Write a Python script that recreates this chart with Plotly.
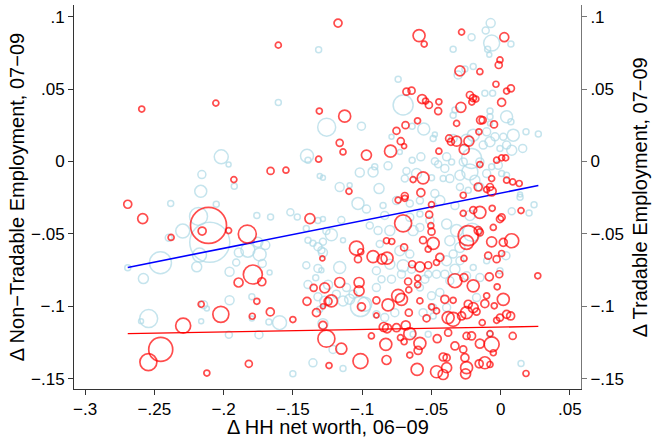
import plotly.graph_objects as go

# ---------------- data ----------------
# Non-tradable employment change (left axis, light blue circles)
nt_x = [
    -.1314, -.1605, -.1256, -.2017, -.1964, -.1398, -.1391, -.2157, -.2165, -.1923,
    -.2382, -.1306, -.1283, -.176, -.1661, -.1518, -.1468, -.2053, -.2181, -.2295,
    -.2396, -.21, -.2174, -.2194, -.2456, -.2692, -.2579, -.2541, -.2596, -.2145,
    -.2121, -.2162, -.1957, -.1962, -.189, -.1957, -.1909, -.1825, -.1753, -.1699,
    -.174, -.1721, -.1668, -.1796, -.1596, -.1673, -.1745, -.1796, -.1355, -.15,
    -.1391, -.1403, -.1355, -.1319, -.1294, -.1283, -.1319, -.1294, -.1335, -.1319,
    -.127, -.1306, -.1403, -.1258, -.1005, -.1017, -.1162, -.109, -.074, -.0704,
    -.0639, -.0555, -.0788, -.0728, -.0487, -.0475, -.0576, -.0639, -.0813, -.0921,
    -.0909, -.068, -.0692, -.0607, -.0499, -.0475, -.0451, -.0878, -.0475, -.0072,
    -.0108, -.021, -.0065, -.0343, -.0082, -.0094, -.0307, -.0258, -.0198, -.0058,
    -.0114, -.033, -.0343, -.0077, -.0077, -.0077, .0043, -.0101, -.0041, -.0077,
    .0019, .0043, -.0005, -.0126, -.0198, -.0246, -.0343, -.021, -.0222, -.027,
    -.015, -.039, -.0403, -.0354, -.0294, -.0186, -.0101, -.0065, -.0017, .0007,
    .0043, -.0367, -.0415, -.015, -.0294, -.0234, .0074, .0074, .0183, .0272,
    .0091, .0159, .008, .014, -.1319, -.1283, -.115, -.103, -.0969, -.1391,
    -.1222, -.1138, -.1283, -.1162, -.1246, -.1113, -.1066, -.109, -.1138, -.1186,
    -.1012, -.0981, -.1283, -.1138, -.121, -.0752, -.0656, -.0583, -.0849, -.0885,
    -.08, -.0632, -.0583, -.0656, -.0583, -.0873, -.0728, -.0656, -.08, -.0704,
    -.0643, -.0523, -.0463, -.0716, -.0897, -.086, -.0788, -.0547, -.0897, -.0583,
    -.0499, -.0487, -.056, -.0764, -.0897, -.0487, -.0837, -.0523, -.0632, -.039,
    -.0318, -.0367, -.0294, -.0343, -.039, -.0294, -.033, -.0403, -.0246, -.0367,
    -.0198, -.0101, -.015, -.0174, -.0439, -.039, -.0077, .014, .0241, .0205,
    .008, .0147, -.0439, -.033, -.0222, -.0511, -.0207, .0038, -.0005, -.0837, -.0945,
]
nt_y = [
    .0772, .0408, .0237, .0032, -.0021, .0039, .0009, -.009, -.0206, -.0171,
    -.0289, -.01, -.0113, -.0372, -.0383, -.0351, -.0383, -.0295, -.0379, -.048,
    -.0526, -.0558, -.0646, -.0727, -.0699, -.0734, -.0808, -.1084, -.1103, -.0988,
    -.1015, -.1103, -.0958, -.1195, -.0628, -.0761, -.0697, -.0612, -.0558, -.0577,
    -.0641, -.0704, -.0766, -.0934, -.1112, -.1107, -.1195, -.1084, -.1389, -.1465,
    -.0849, -.0716, -.0565, -.0588, -.0612, -.0554, -.0738, -.075, -.0803, -.0934,
    -.0965, -.102, -.0462, -.048, .0244, -.0076, -.0176, -.0164, .0567, .039,
    .0244, .0224, .017, .0066, .0159, .0187, .0032, .0009, -.003, -.0072,
    -.0037, -.0065, -.0118, -.0083, -.0113, .0002, -.0019, -.0187, -.0221, .0955,
    .0904, .0858, .0817, .0775, .0736, .0775, .0597, .0639, .0655, .0471,
    .0471, .0355, .032, .0348, .0309, .0263, .0309, .0205, .017, .0136,
    .017, .0113, .009, .0113, .0182, .0147, .0159, .0021, -.0072, -.0003,
    -.0003, .0032, -.0048, -.0003, -.0095, -.0129, -.0083, -.0037, -.0026, -.0083,
    -.0095, -.0118, -.0118, -.0176, -.0176, -.0199, .081, .0274, .0205, .0189,
    .0182, .009, .0078, -.0228, -.0408, -.0397, -.0404, -.0289, -.0328, -.0543,
    -.0505, -.0543, -.0628, -.0731, -.0851, -.087, -.0916, -.0951, -.0962, -.0916,
    -.1001, -.0985, -.1119, -.1428, -.1297, -.027, -.0289, -.027, -.0304, -.0477,
    -.0477, -.0477, -.0455, -.0385, -.0363, -.057, -.0616, -.0639, -.0709, -.072,
    -.0743, -.0778, -.0778, -.0778, -.0754, -.0812, -.0812, -.0812, -.087, -.087,
    -.0927, -.1008, -.1043, -.1043, -.1055, -.1066, -.1077, -.1193, -.1193, -.0432,
    -.0477, -.0547, -.0593, -.0639, -.0685, -.0685, -.0743, -.0778, -.0789, -.0823,
    -.0731, -.0685, -.0801, -.0939, -.0904, -.1008, -.1193, -.0247, -.0298, -.0356,
    -.0344, -.1394, -.0269, -.0304, -.0372, -.0407, -.0489, -.065, -.0754, -.0372, -.0441,
]
nt_size = [
    6, 6, 18, 14, 5, 13, 6, 8, 12, 6,
    6, 5, 5, 6, 6, 7, 6, 6, 18, 14,
    7, 40, 14, 10, 22, 6, 10, 18, 5, 8,
    5, 5, 9, 7, 9, 9, 7, 14, 10, 9,
    13, 8, 5, 6, 14, 6, 8, 5, 8, 6,
    8, 7, 6, 8, 7, 7, 8, 5, 6, 8,
    10, 6, 6, 7, 8, 9, 9, 5, 6, 20,
    6, 12, 5, 5, 6, 5, 8, 6, 8, 10,
    6, 7, 7, 10, 6, 7, 7, 10, 8, 9,
    7, 7, 16, 6, 5, 6, 8, 6, 6, 6,
    6, 6, 6, 6, 6, 5, 12, 8, 8, 10,
    7, 8, 6, 8, 12, 12, 8, 20, 16, 8,
    8, 8, 8, 6, 10, 10, 8, 6, 8, 6,
    6, 8, 6, 8, 7, 6, 6, 6, 6, 6,
    12, 8, 10, 5, 6, 5, 7, 12, 8, 6,
    12, 5, 9, 12, 9, 8, 8, 10, 10, 8,
    20, 14, 10, 6, 8, 8, 7, 7, 6, 8,
    10, 10, 8, 8, 6, 7, 10, 8, 10, 12,
    8, 7, 8, 8, 8, 7, 8, 8, 8, 7,
    8, 7, 8, 8, 7, 6, 8, 6, 6, 10,
    12, 10, 10, 8, 10, 8, 10, 8, 8, 8,
    6, 6, 8, 8, 8, 8, 6, 6, 6, 6,
    7, 6, 10, 8, 10, 8, 18, 8, 6, 8, 7,
]

# Tradable employment change (right axis, red circles)
tr_x = [
    -.1605, -.2591, -.2056, -.1309, -.1314, -.1661, -.155, -.1926, -.2692, -.2584,
    -.2109, -.1377, -.2155, -.2379, -.1964, -.1829, -.1789, -.1892, -.1724, -.2162,
    -.176, -.202, -.1793, -.1663, -.15, -.2292, -.2454, -.2543, -.2121, -.1818,
    -.1398, -.135, -.127, -.1287, -.133, -.1283, -.1246, -.1283, -.1258, -.1239,
    -.1174, -.1126, -.1162, -.1138, -.0969, -.1095, -.0589, -.0552, -.068, -.0643,
    -.0567, -.0542, -.0518, -.0451, -.0446, -.06, -.0687, -.0752, -.0721, -.0697,
    -.0795, -.0446, -.0632, -.056, -.0576, -.0692, -.0282, .0026, -.0294, -.015,
    -.0014, -.0005, -.0034, .0043, -.0222, -.02, -.0179, -.0208, .0007, -.0287,
    -.0145, -.013, -.0048, -.0318, -.0157, -.0372, -.0359, -.0318, -.0229, -.0263,
    -.015, -.0029, .0007, .0036, -.0065, -.0162, -.0101, -.0077, -.0065, -.027,
    .0043, .0074, .0087, .0134, -.1041, -.101, -.103, -.1162, -.1022, -.1022,
    -.1222, -.1005, -.115, -.1012, -.074, -.0692, -.0499, -.0704, -.0516, -.0504,
    -.0499, -.0487, -.0523, -.056, -.0824, -.0786, -.0697, -.0921, -.0856, -.082,
    -.0583, -.0639, -.0523, -.0463, -.0599, -.0599, -.0668, -.0663, -.074, -.0716,
    -.0897, -.0813, -.0583, -.0499, -.0897, -.0663, -.0535, -.0463, -.0844, -.082,
    -.0752, -.0685, -.0656, -.0829, -.0723, -.0697, -.0583, -.0596, -.0656, -.0933,
    -.0824, -.0603, -.0463, -.015, -.0198, -.027, -.0061, -.0005, .0007, -.0234,
    -.0246, -.0162, -.015, -.0065, .0019, -.0053, .0007, -.009, -.0029, -.0265,
    -.0439, -.033, -.0265, -.0198, -.0082, -.001, -.0025, -.0101, .0019, -.0403,
    -.0343, -.0234, -.0198, -.0174, -.0246, -.0114, -.0046, .0043, -.0005, -.0029,
    -.0379, -.0343, -.0282, -.0133, -.0379, -.0246, -.021, -.0077, -.015, -.0065,
    -.033, -.0053, -.027, -.0415, -.039, -.0258, -.039, -.0415, -.0246, -.0114,
    -.0155, -.0077, .0147, .008, .0268, .0072, .0087, .0183, -.0253, -.0458,
]
tr_y = [
    .0803, .0362, .0403, .0348, .0016, -.0065, -.006, -.0125, -.0295, -.0394,
    -.0441, -.0394, -.048, -.0524, -.0477, -.0501, -.078, -.0835, -.083, -.0985,
    -.0965, -.1055, -.1068, -.1038, -.1091, -.1133, -.1297, -.1384, -.146, -.1396,
    -.0965, -.0872, -.0872, -.0669, -.1043, -.0999, -.0965, -.1131, -.1223, -.1408,
    .0955, .0313, .0129, .0066, .0044, -.0206, .0869, .081, .0482, .0489,
    .0431, .0417, .039, .0348, .0412, .0281, .0251, .0212, .014, .0106,
    .0071, .0071, -.0125, -.0113, -.0215, -.0238, .0893, .0858, .0625, .062,
    .0666, .0701, .0533, .0486, .0459, .0438, .0431, .041, .0408, .0374,
    .0286, .0286, .0256, .0263, .0205, .0159, .0136, .014, .014, .0083,
    -.0021, .0009, .0025, .0025, -.0118, -.0176, -.0194, -.0176, -.0206, -.0233,
    -.0129, .0505, -.0141, -.0152, -.0598, -.0623, -.0674, -.0835, -.0835, -.0893,
    -.0962, -.1003, -.1292, -.1377, -.0266, -.0254, -.0298, -.0427, -.0367, -.0443,
    -.0484, -.0565, -.0605, -.0543, -.0547, -.0552, -.0593, -.0657, -.0674, -.0667,
    -.0727, -.0709, -.0716, -.0697, -.0805, -.0851, -.0828, -.0886, -.0927, -.0951,
    -.0958, -.099, -.0962, -.1003, -.1062, -.1043, -.1082, -.1031, -.1142, -.1151,
    -.1147, -.1131, -.1188, -.1262, -.1216, -.1244, -.1255, -.1304, -.1336, -.1204,
    -.137, -.1435, -.1451, -.0351, -.0335, -.0358, -.0323, -.0397, -.0385, -.0512,
    -.0558, -.0477, -.0489, -.0554, -.0558, -.0455, -.0635, -.065, -.0674, -.0669,
    -.0662, -.0823, -.0801, -.0858, -.0796, -.0778, -.0865, -.0927, -.0951, -.0951,
    -.0958, -.0985, -.1008, -.1036, -.1043, -.0981, -.0996, -.1055, -.1077, -.1096,
    -.1077, -.1089, -.1066, -.1112, -.1181, -.1204, -.1204, -.1188, -.1257, -.1262,
    -.1273, -.132, -.1297, -.1349, -.1354, -.1354, -.1423, -.147, -.1423, -.1389,
    -.1396, -.1401, -.0339, -.0547, -.0789, -.1066, -.1204, -.1463, -.1465, -.1223,
]
tr_size = [
    6, 6, 6, 6, 6, 7, 6, 6, 8, 10,
    36, 10, 8, 6, 6, 18, 19, 9, 8, 6,
    6, 16, 6, 8, 6, 15, 24, 17, 6, 7,
    8, 7, 10, 5, 8, 5, 8, 8, 17, 6,
    8, 12, 7, 6, 10, 6, 12, 6, 7, 7,
    9, 6, 7, 7, 6, 6, 7, 7, 7, 5,
    12, 6, 6, 12, 8, 7, 6, 9, 10, 6,
    7, 6, 6, 6, 7, 7, 6, 6, 8, 10,
    8, 7, 7, 6, 6, 7, 7, 10, 10, 10,
    6, 6, 6, 6, 6, 8, 6, 7, 9, 6,
    6, 7, 6, 6, 14, 6, 7, 10, 10, 10,
    12, 8, 11, 15, 6, 6, 6, 17, 7, 6,
    7, 12, 6, 7, 6, 6, 7, 12, 10, 12,
    10, 7, 7, 6, 6, 6, 7, 6, 13, 12,
    7, 12, 6, 6, 5, 7, 7, 6, 9, 9,
    8, 9, 12, 12, 6, 6, 12, 8, 6, 6,
    9, 12, 12, 12, 7, 6, 6, 7, 7, 20,
    14, 8, 7, 10, 8, 6, 6, 7, 7, 6,
    8, 14, 8, 12, 8, 7, 6, 6, 12, 8,
    6, 8, 10, 7, 12, 8, 6, 8, 7, 6,
    12, 14, 8, 6, 7, 7, 8, 6, 9, 15,
    8, 6, 7, 8, 7, 8, 10, 10, 12, 12,
    8, 6, 6, 14, 6, 8, 7, 6, 10, 8,
]

# Fitted lines (end points)
fit_x = [-0.2692, 0.0272]
nt_fit_y = [-0.0731, -0.0166]
tr_fit_y = [-0.1188, -0.1138]

# Axis ticks
x_ticks = [-.3, -.25, -.2, -.15, -.1, -.05, 0, .05]
x_ticklabels = ["\u2212.3", "\u2212.25", "\u2212.2", "\u2212.15", "\u2212.1", "\u2212.05", "0", ".05"]
y_ticks = [-.15, -.1, -.05, 0, .05, .1]
y_ticklabels = ["\u2212.15", "\u2212.1", "\u2212.05", "0", ".05", ".1"]

x_title = "\u0394 HH net worth, 06\u221209"
y_title = "\u0394 Non\u2212Tradable Employment, 07\u221209"
y2_title = "\u0394 Tradable Employment, 07\u221209"

# ---------------- figure ----------------
FONT = "Liberation Sans, Arial, Helvetica, sans-serif"
LIGHTBLUE = "#ADD8E6"
RED = "#FF0000"
BLUE = "#0000FF"
TICK_SIZE = 17
TITLE_SIZE = 20

fig = go.Figure()
fig.add_trace(go.Scatter(
    x=nt_x, y=nt_y, mode="markers", yaxis="y",
    marker=dict(symbol="circle-open", size=nt_size, color=LIGHTBLUE,
                line=dict(width=1.5, color=LIGHTBLUE)),
    showlegend=False, hoverinfo="skip"))
fig.add_trace(go.Scatter(
    x=fit_x, y=nt_fit_y, mode="lines", yaxis="y",
    line=dict(color=BLUE, width=1.6), showlegend=False, hoverinfo="skip"))
fig.add_trace(go.Scatter(
    x=tr_x, y=tr_y, mode="markers", yaxis="y2",
    marker=dict(symbol="circle-open", size=tr_size, color=RED,
                line=dict(width=1.7, color=RED)),
    showlegend=False, hoverinfo="skip"))
fig.add_trace(go.Scatter(
    x=fit_x, y=tr_fit_y, mode="lines", yaxis="y2",
    line=dict(color=RED, width=1.4), showlegend=False, hoverinfo="skip"))

y_range = [-0.157, 0.108]
common_y = dict(
    range=y_range, tickmode="array", tickvals=y_ticks, ticktext=y_ticklabels,
    ticks="outside", ticklen=5, tickwidth=1, showgrid=False, zeroline=False,
    showline=True, linewidth=1, automargin=False,
    tickfont=dict(size=TICK_SIZE, color="black", family=FONT),
)

fig.update_layout(
    width=654, height=438,
    margin=dict(l=74, r=73, t=5, b=49, autoexpand=False),
    paper_bgcolor="white", plot_bgcolor="white",
    font=dict(family=FONT, size=TICK_SIZE, color="black"),
    xaxis=dict(
        range=[-0.308, 0.058], tickmode="array", tickvals=x_ticks, ticktext=x_ticklabels,
        ticks="outside", ticklen=5, tickwidth=1, tickcolor="#333",
        showline=True, linecolor="#333", linewidth=1, showgrid=False, zeroline=False,
        automargin=False,
        tickfont=dict(size=TICK_SIZE, color="black", family=FONT),
    ),
    yaxis=dict(**common_y, linecolor="#333", tickcolor="#333"),
    yaxis2=dict(**common_y, overlaying="y", side="right", linecolor="#777", tickcolor="#777"),
    showlegend=False,
    annotations=[
        dict(text=x_title, xref="paper", yref="paper", x=0.5, y=-0.1,
             xanchor="center", yanchor="middle", showarrow=False,
             font=dict(size=TITLE_SIZE, color="black", family=FONT)),
        dict(text=y_title, xref="paper", yref="paper", x=-0.112, y=0.5,
             xanchor="center", yanchor="middle", textangle=-90, showarrow=False,
             font=dict(size=TITLE_SIZE, color="black", family=FONT)),
        dict(text=y2_title, xref="paper", yref="paper", x=1.117, y=0.5,
             xanchor="center", yanchor="middle", textangle=-90, showarrow=False,
             font=dict(size=TITLE_SIZE, color="black", family=FONT)),
    ],
)

# remove the browser's default page margin so the figure sits at the window's corner
fig.write_html("out.html", config={"displayModeBar": False},
               post_script="document.body.style.margin='0';document.body.style.overflow='hidden';")
